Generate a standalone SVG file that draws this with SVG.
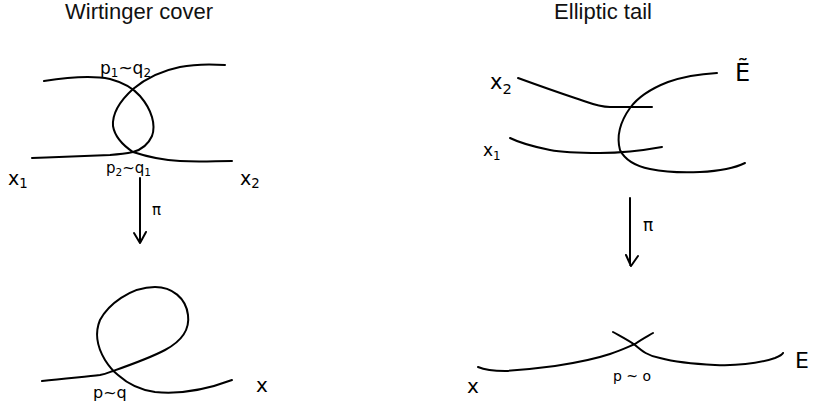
<svg xmlns="http://www.w3.org/2000/svg" width="825" height="404" viewBox="0 0 825 404">
<style>
.c{fill:none;stroke:#000;stroke-width:2;stroke-linecap:round;stroke-linejoin:round}
.t{font-family:"Liberation Sans",Arial,sans-serif;font-size:22px;fill:#111}
.h{font-family:"DejaVu Sans","Liberation Sans",sans-serif;fill:#000}
.s{font-size:70%}
</style>
<rect width="825" height="404" fill="#fff"/>
<text class="t" x="139" y="19" text-anchor="middle">Wirtinger cover</text>
<text class="t" x="603" y="19" text-anchor="middle">Elliptic tail</text>

<g id="wirtinger-cover">
<path class="c" d="M44,81 C70,77 95,76 110,79 C125,83 133,88 140,96 C152,110 156,125 152,136 C148,145 140,150 133,152 C145,156 160,160 180,161 C200,162 215,161 232,161"/>
<path class="c" d="M32,158 C60,157 90,156 110,155 C122,154 128,153 133,152 C124,146 115,138 113,126 C112,112 122,99 133,89 C145,79 160,71 180,67 C195,64 210,64 225,65"/>
<text class="h" x="100" y="74" font-size="17">p<tspan class="s" dy="3">1</tspan><tspan dy="-3">~q</tspan><tspan class="s" dy="3">2</tspan></text>
<text class="h" x="106" y="173" font-size="15">p<tspan class="s" dy="3">2</tspan><tspan dy="-3">~q</tspan><tspan class="s" dy="3">1</tspan></text>
<text class="h" x="8" y="185" font-size="19">x<tspan class="s" dy="3">1</tspan></text>
<text class="h" x="240" y="185" font-size="19">x<tspan class="s" dy="3">2</tspan></text>
</g>

<g id="wirtinger-base">
<path class="c" d="M42,381 C65,378 85,377 100,375 C106,374 110,372 113,371 C130,365 150,358 165,350 C180,342 190,330 188,315 C186,298 172,287 155,287 C130,287 108,305 100,320 C95,332 96,345 105,360 C110,368 113,371 118,375 C128,384 140,390 155,392 C175,394 200,392 232,380"/>
<text class="h" x="93" y="398" font-size="16">p~q</text>
<text class="h" x="256" y="392" font-size="20">x</text>
</g>

<g id="elliptic-tail">
<path class="c" d="M518,78 C540,86 560,93 575,98 C590,103 598,107 610,107 C625,107 640,107 652,107"/>
<path class="c" d="M510,138 C520,143 535,147 550,150 C565,153 580,153 600,153 C620,153 640,151 662,147"/>
<path class="c" d="M717,73 C700,74 685,76 668,82 C650,89 638,97 630,108 C620,122 616,135 620,150 C625,160 635,166 650,169 C665,172 680,173 700,172 C720,171 735,168 745,163"/>
<text class="h" x="490" y="89" font-size="21">x<tspan class="s" dy="5">2</tspan></text>
<text class="h" x="483" y="156" font-size="17">x<tspan class="s" dy="4">1</tspan></text>
<text class="h" x="735" y="81" font-size="24">Ẽ</text>
</g>

<g id="elliptic-base">
<path class="c" d="M478,367 C485,370 495,371 505,371 C520,370 540,368 555,366 C575,363 595,359 610,354 C622,350 630,346 635,344 C642,339 648,336 653,333"/>
<path class="c" d="M613,332 C620,336 628,340 635,345 C642,351 648,356 660,358 C675,362 695,364 715,365 C740,366 760,363 775,358 C780,356 782,355 783,353"/>
<text class="h" x="613" y="381" font-size="14">p ~ o</text>
<text class="h" x="467" y="393" font-size="20">x</text>
<text class="h" x="795" y="368" font-size="22">E</text>
</g>

<g id="connectors">
<path class="c" d="M140,178 L140,242 M134,233 L140,243 L146,232"/>
<text class="h" x="152" y="215" font-size="15">π</text>
<path class="c" d="M630,198 L630,265 M626,255 L631,266 L638,256"/>
<text class="h" x="643" y="231" font-size="17">π</text>
</g>
</svg>
